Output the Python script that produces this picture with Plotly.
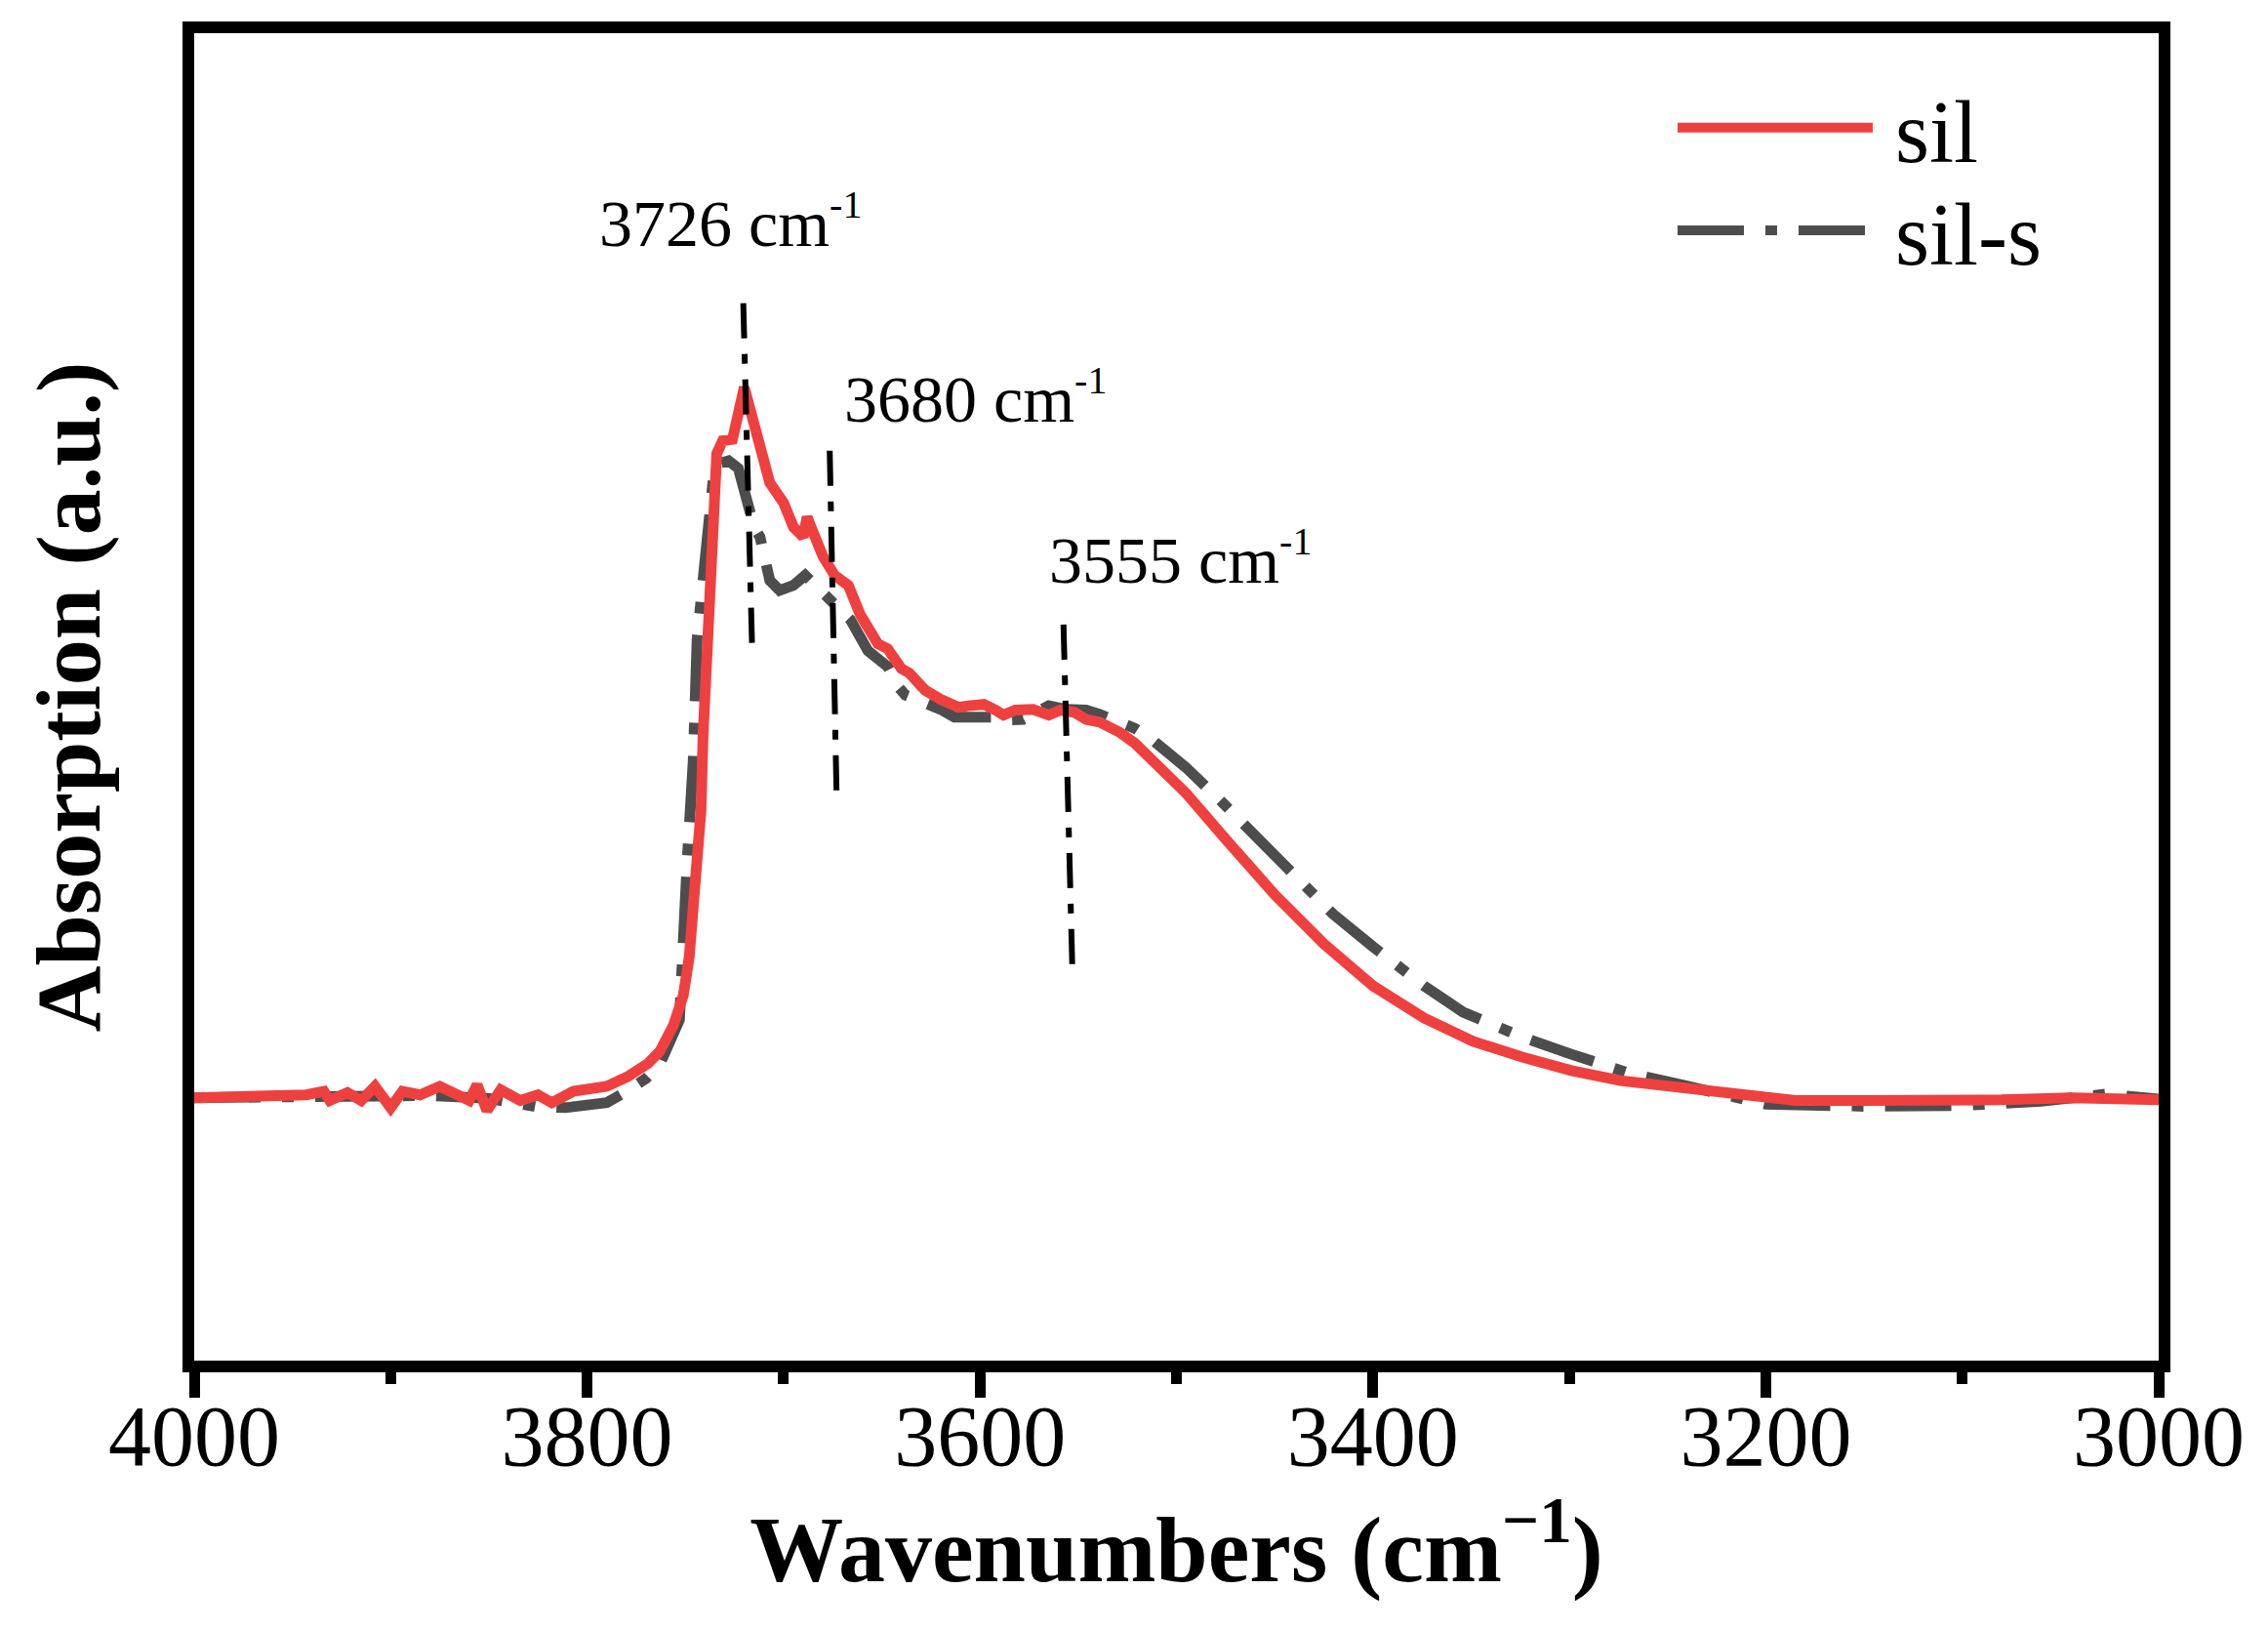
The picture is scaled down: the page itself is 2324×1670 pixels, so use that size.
import plotly.graph_objects as go

# ---------------- data ----------------
sil_wn = [4000, 3980, 3966, 3943, 3934, 3931, 3922, 3915, 3908, 3900, 3894, 3885,
          3875, 3866, 3860, 3856, 3851, 3844, 3834, 3825, 3818, 3807, 3790, 3779,
          3769, 3763, 3756, 3751, 3748, 3746, 3744, 3742, 3741, 3739, 3737, 3736,
          3734, 3731, 3726, 3720, 3715, 3712, 3707, 3700, 3695, 3690, 3688, 3685,
          3680, 3674, 3667, 3661, 3652, 3647, 3640, 3636, 3628, 3620, 3611, 3606,
          3598, 3592, 3588, 3582, 3573, 3565, 3559, 3552, 3546, 3539, 3529, 3521,
          3513, 3495, 3475, 3450, 3425, 3400, 3374, 3349, 3324, 3299, 3274, 3256,
          3231, 3221, 3185, 3150, 3115, 3080, 3044, 3000]
sil_abs = [0.003, 0.005, 0.007, 0.007, 0.012, -0.001, 0.010, -0.001, 0.019, -0.011, 0.012, 0.007,
           0.019, 0.007, -0.001, 0.021, -0.015, 0.014, -0.001, 0.007, -0.004, 0.012, 0.019, 0.033,
           0.051, 0.068, 0.105, 0.147, 0.201, 0.270, 0.338, 0.407, 0.510, 0.612, 0.715, 0.818,
           0.907, 0.925, 0.927, 1.000, 0.948, 0.914, 0.866, 0.838, 0.804, 0.790, 0.818, 0.797,
           0.763, 0.736, 0.722, 0.681, 0.640, 0.633, 0.605, 0.599, 0.575, 0.562, 0.551, 0.553,
           0.555, 0.547, 0.540, 0.547, 0.548, 0.540, 0.547, 0.544, 0.534, 0.530, 0.516, 0.500,
           0.478, 0.430, 0.366, 0.288, 0.219, 0.160, 0.115, 0.082, 0.060, 0.041, 0.027, 0.021,
           0.012, 0.010, -0.001, -0.001, -0.001, 0.000, 0.003, 0.000]

sils_wn = [4000, 3960, 3920, 3880, 3850, 3834, 3825, 3811, 3790, 3781, 3770, 3763,
           3753, 3749, 3746, 3744, 3741, 3738, 3736, 3733, 3728, 3723, 3720, 3715,
           3712, 3707, 3702, 3695, 3689, 3684, 3677, 3671, 3666, 3657, 3647, 3642,
           3638, 3620, 3613, 3593, 3587, 3578, 3572, 3565, 3556, 3546, 3539, 3521,
           3513, 3495, 3478, 3460, 3439, 3420, 3400, 3374, 3354, 3324, 3299, 3269,
           3243, 3220, 3200, 3150, 3100, 3060, 3027, 3000]
sils_abs = [0.003, 0.005, 0.004, 0.006, 0.002, -0.008, -0.010, -0.011, -0.004, 0.010, 0.030, 0.050,
            0.112, 0.338, 0.475, 0.647, 0.736, 0.818, 0.866, 0.893, 0.897, 0.886, 0.859, 0.804,
            0.790, 0.729, 0.715, 0.722, 0.736, 0.722, 0.701, 0.688, 0.674, 0.630, 0.608, 0.581,
            0.568, 0.548, 0.537, 0.537, 0.533, 0.534, 0.541, 0.553, 0.548, 0.547, 0.541, 0.521,
            0.507, 0.466, 0.421, 0.370, 0.311, 0.260, 0.215, 0.160, 0.123, 0.088, 0.064, 0.037,
            0.021, 0.005, -0.006, -0.009, -0.008, -0.002, 0.008, 0.001]

# peak marker lines (hand-drawn, slightly slanted) and their labels
peak_values = ["3726", "3680", "3555"]
label_wn = [3795, 3670, 3566]
label_abs = [1.233, 0.986, 0.760]
marker_wn_top = [3720.5, 3676.5, 3557.5]
marker_wn_bottom = [3716, 3673, 3553]
marker_abs_top = [1.118, 0.911, 0.667]
marker_abs_bottom = [0.634, 0.427, 0.184]

x_ticks = [4000, 3800, 3600, 3400, 3200, 3000]

# ---------------- figure ----------------
SERIF = "Liberation Serif, Times New Roman, serif"
RED = "#EF4040"
GRAY = "#4D4D4D"

fig = go.Figure()

fig.add_trace(go.Scatter(
    x=sils_wn, y=sils_abs, mode="lines", name="\u2009sil-s", legend="legend2",
    line=dict(color=GRAY, width=11, dash="68px,22px,12px,22px"),
))
fig.add_trace(go.Scatter(
    x=sil_wn, y=sil_abs, mode="lines", name="\u2009sil", legend="legend",
    line=dict(color=RED, width=11),
))

for i in range(len(peak_values)):
    fig.add_trace(go.Scatter(
        x=[marker_wn_top[i], marker_wn_bottom[i]],
        y=[marker_abs_top[i], marker_abs_bottom[i]],
        mode="lines", showlegend=False, hoverinfo="skip",
        line=dict(color="black", width=6, dash="36px,16px,10px,16px"),
    ))
    fig.add_annotation(
        x=label_wn[i], y=label_abs[i],
        text=peak_values[i] + ' cm<sup><span style="font-size:40px">-1</span></sup>',
        showarrow=False, xanchor="left", yanchor="middle",
        font=dict(family=SERIF, size=68, color="black"),
    )

legend_style = dict(
    xanchor="left", yanchor="top",
    font=dict(family=SERIF, size=90, color="black"),
    itemwidth=200, bgcolor="rgba(0,0,0,0)", borderwidth=0,
)

fig.update_layout(
    width=2324, height=1670,
    margin=dict(l=199, r=112, t=34, b=276),
    paper_bgcolor="white", plot_bgcolor="white",
    showlegend=True,
    legend=dict(x=0.7526, y=0.9767, **legend_style),
    legend2=dict(x=0.7526, y=0.8992, **legend_style),
    xaxis=dict(
        range=[4000, 3000], tickvals=x_ticks, ticktext=[str(v) for v in x_ticks],
        ticks="outside", ticklen=26, tickwidth=11, tickcolor="black",
        minor=dict(dtick=100, tick0=3000, ticks="outside", ticklen=12,
                   tickwidth=11, tickcolor="black", showgrid=False),
        showline=True, linewidth=12, linecolor="black", mirror=True,
        showgrid=False, zeroline=False, ticklabelstandoff=-37,
        tickfont=dict(family=SERIF, size=88, color="black"),
        title=dict(text="<b>Wavenumbers (cm<sup>−1</sup>)</b>",
                   font=dict(family=SERIF, size=96, color="black"), standoff=34),
    ),
    yaxis=dict(
        range=[-0.366, 1.497], showticklabels=False, ticks="",
        showline=True, linewidth=12, linecolor="black", mirror=True,
        showgrid=False, zeroline=False,
        title=dict(text="<b>Absorption (a.u.)</b>",
                   font=dict(family=SERIF, size=94, color="black"), standoff=58),
    ),
)

fig.write_html(
    "out.html",
    config={"displayModeBar": False},
    post_script="document.body.style.margin='0px'; document.body.style.overflow='hidden';",
)
